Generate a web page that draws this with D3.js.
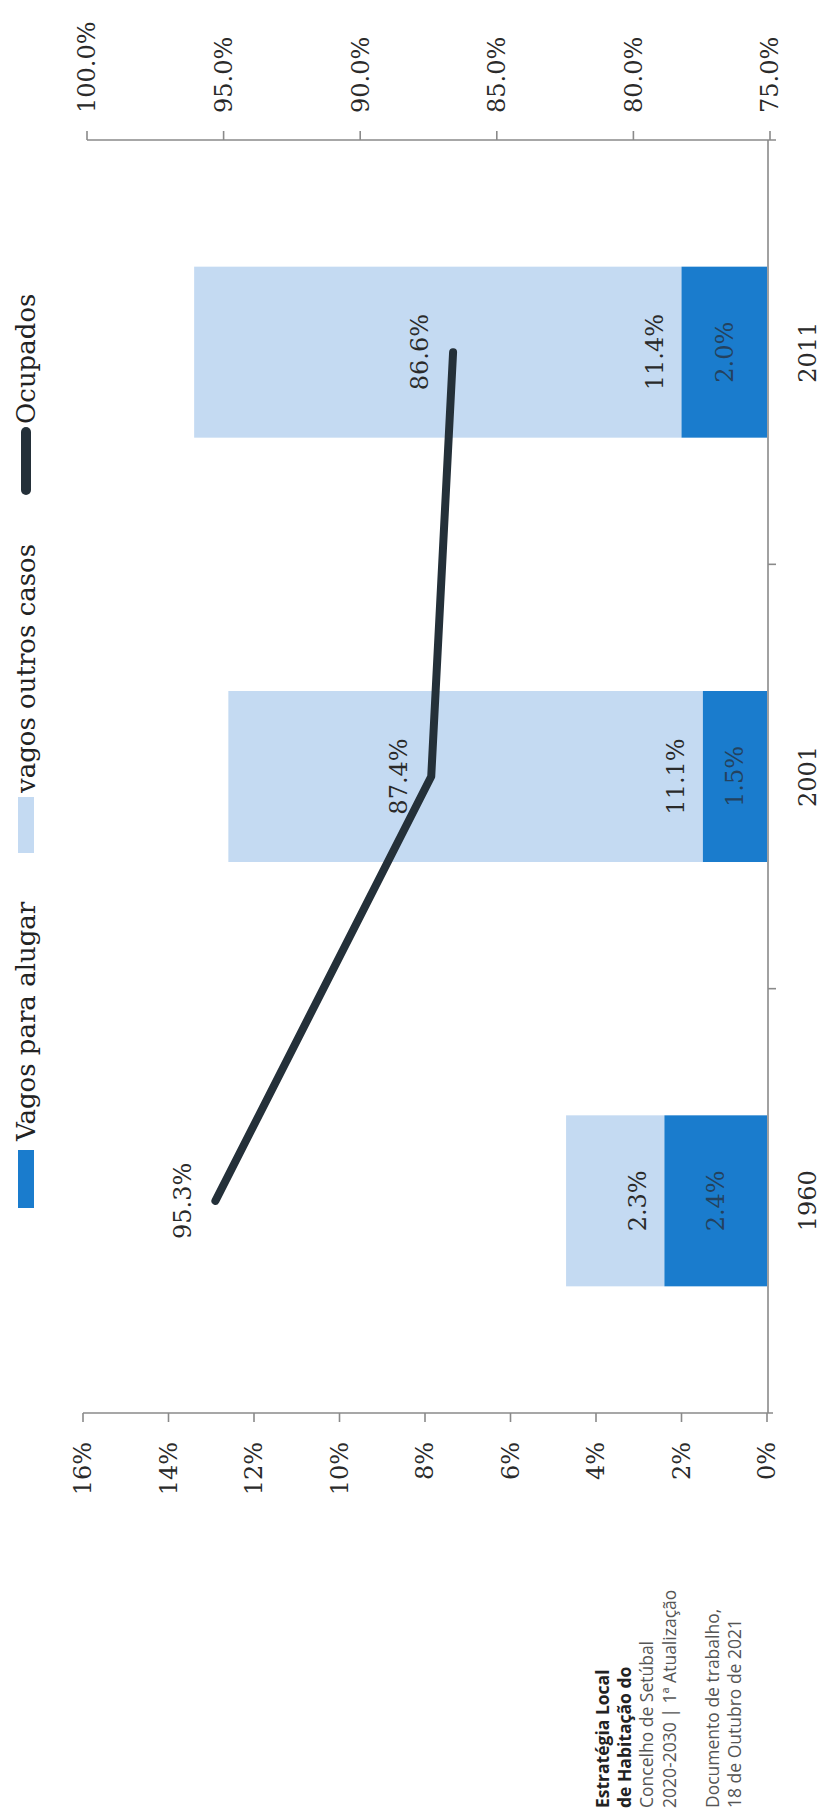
<!DOCTYPE html>
<html>
<head>
<meta charset="utf-8">
<script src="https://cdn.jsdelivr.net/npm/d3@7"></script>
<style>
  html, body { margin: 0; padding: 0; background: #ffffff; }
  svg { display: block; }
</style>
</head>
<body>
<svg id="chart" width="827" height="1819"></svg>
<script>
// ---- data ----
const years = ["1960", "2001", "2011"];
const vagosParaAlugar = [2.4, 1.5, 2.0];
const vagosOutrosCasos = [2.3, 11.1, 11.4];
const ocupados = [95.3, 87.4, 86.6];
const barTicks = [0, 2, 4, 6, 8, 10, 12, 14, 16];
const lineTicks = [75, 80, 85, 90, 95, 100];
const legendLabels = ["Vagos para alugar", "vagos outros casos", "Ocupados"];
const footLines = ["Estratégia Local", "de Habitação do", "Concelho de Setúbal", "2020-2030 | 1ª Atualização", "Documento de trabalho,", "18 de Outubro de 2021"];

const C_DARK = "#1a7ccd", C_LIGHT = "#c4daf2", C_LINE = "#243039", C_AXIS = "#8a8a8a";
const NUM_FONT = "DejaVu Serif";

const svg = d3.select("#chart");

// chart is drawn rotated 90° counter-clockwise
const xBar = d3.scaleLinear().domain([0, 16]).range([767, 83]);
const xLine = d3.scaleLinear().domain([75, 100]).range([770, 87]);
const yBand = d3.scaleBand().domain(years.slice().reverse()).range([140, 1413])
  .paddingInner(0.597).paddingOuter(0.2985);
const bw = yBand.bandwidth();
const cy = y => yBand(y) + bw / 2;

const rows = years.map((y, i) => ({ year: y, a: vagosParaAlugar[i], o: vagosOutrosCasos[i], occ: ocupados[i] }));

// bars
const g = svg.append("g");
g.selectAll("rect.light").data(rows).join("rect")
  .attr("x", d => xBar(d.a + d.o)).attr("y", d => yBand(d.year))
  .attr("width", d => xBar(d.a) - xBar(d.a + d.o)).attr("height", bw)
  .attr("fill", C_LIGHT);
g.selectAll("rect.dark").data(rows).join("rect")
  .attr("x", d => xBar(d.a)).attr("y", d => yBand(d.year))
  .attr("width", d => xBar(0) - xBar(d.a)).attr("height", bw)
  .attr("fill", C_DARK);

// axes
const ax = svg.append("g").attr("stroke", C_AXIS).attr("stroke-width", 1.6).attr("fill", "none");
ax.append("line").attr("x1", xBar(16)).attr("x2", xBar(0) + 6).attr("y1", 1413).attr("y2", 1413);
barTicks.forEach(t => ax.append("line").attr("x1", xBar(t)).attr("x2", xBar(t)).attr("y1", 1413).attr("y2", 1422));
ax.append("line").attr("x1", xLine(100)).attr("x2", xLine(75) + 6).attr("y1", 140).attr("y2", 140);
lineTicks.forEach(t => ax.append("line").attr("x1", xLine(t)).attr("x2", xLine(t)).attr("y1", 140).attr("y2", 131));
ax.append("line").attr("x1", 768).attr("x2", 768).attr("y1", 140).attr("y2", 1413);
years.forEach(y => {
  const b = yBand(y) + bw + yBand.step() * yBand.paddingInner() / 2;
  if (b < 1400) ax.append("line").attr("x1", 768).attr("x2", 776).attr("y1", b).attr("y2", b);
});

function rtext(x, y, txt, anchor, size, fam, color, weight) {
  return svg.append("text")
    .attr("transform", `translate(${x},${y}) rotate(-90)`)
    .attr("text-anchor", anchor).attr("dy", "0.35em")
    .attr("font-family", fam).attr("font-size", size)
    .attr("font-weight", weight || "normal")
    .attr("fill", color).text(txt);
}

// tick labels
barTicks.forEach(t => rtext(xBar(t), 1442, t + "%", "end", 24, NUM_FONT, "#2a2a2a"));
lineTicks.forEach(t => rtext(xLine(t), 113, d3.format(".1f")(t) + "%", "start", 24, NUM_FONT, "#2a2a2a"));
years.forEach(y => rtext(808, cy(y), y, "middle", 24, NUM_FONT, "#2a2a2a"));

// line
svg.append("path").datum(rows)
  .attr("d", d3.line().x(d => xLine(d.occ)).y(d => cy(d.year)))
  .attr("fill", "none").attr("stroke", C_LINE).attr("stroke-width", 8)
  .attr("stroke-linecap", "round").attr("stroke-linejoin", "round");

// data labels
rows.forEach(d => {
  rtext(xLine(d.occ) - 33, cy(d.year), d3.format(".1f")(d.occ) + "%", "middle", 24, NUM_FONT, "#2a2a2a");
  rtext(xBar(d.a) - 27, cy(d.year), d3.format(".1f")(d.o) + "%", "middle", 24, NUM_FONT, "#2a2a2a");
  rtext(xBar(d.a / 2), cy(d.year), d3.format(".1f")(d.a) + "%", "middle", 24, NUM_FONT, "#24425e");
});

// legend
const lx = 26;
svg.append("rect").attr("x", lx - 8).attr("y", 1150).attr("width", 16).attr("height", 58).attr("fill", C_DARK);
rtext(lx, 1141, legendLabels[0], "start", 26, NUM_FONT, "#222");
svg.append("rect").attr("x", lx - 8).attr("y", 797).attr("width", 16).attr("height", 56).attr("fill", C_LIGHT);
rtext(lx, 793, legendLabels[1], "start", 26, NUM_FONT, "#222");
svg.append("line").attr("x1", lx).attr("x2", lx).attr("y1", 432).attr("y2", 490)
  .attr("stroke", C_LINE).attr("stroke-width", 10).attr("stroke-linecap", "round");
rtext(lx, 424, legendLabels[2], "start", 26, NUM_FONT, "#222");

// footnote
const footX = [603, 625, 647, 670, 713, 735];
footLines.forEach((t, i) => rtext(footX[i], 1808, t, "start", 17.5, "Open Sans", i < 2 ? "#222" : "#555", i < 2 ? "bold" : "normal"));
</script>
</body>
</html>
